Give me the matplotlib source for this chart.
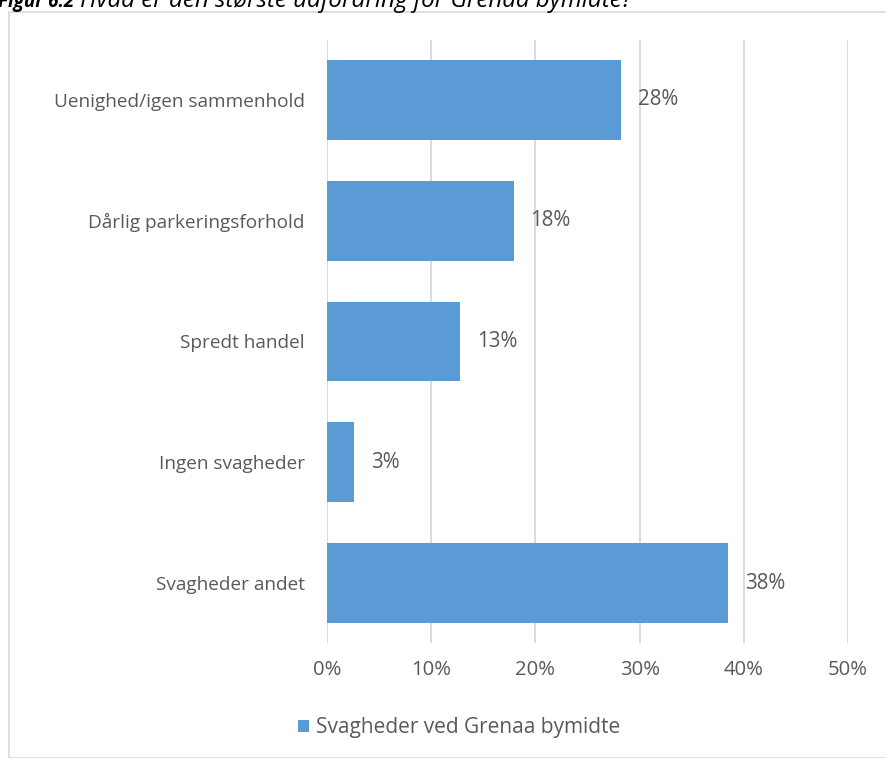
import matplotlib.pyplot as plt
from matplotlib.patches import Rectangle
from matplotlib.ticker import PercentFormatter

plt.rcParams['font.family'] = ['Open Sans', 'DejaVu Sans']

categories = ["Uenighed/igen sammenhold", "Dårlig parkeringsforhold", "Spredt handel",
              "Ingen svagheder", "Svagheder andet"]
values = [28.2, 17.9, 12.8, 2.6, 38.5]
labels = ["28%", "18%", "13%", "3%", "38%"]
series_name = "Svagheder ved Grenaa bymidte"

BAR_COLOR = '#5B9BD5'
GRID_COLOR = '#D9D9D9'
TEXT_COLOR = '#595959'

fig = plt.figure(figsize=(8.87, 7.58), dpi=100)
ax = fig.add_axes([327 / 887, 1 - 643.4 / 758, (848 - 327) / 887, (643.4 - 39.6) / 758])

ypos = list(range(len(categories)))
bars = ax.barh(ypos, values, height=0.66, color=BAR_COLOR, label=series_name, zorder=3)
for y, v, lab in zip(ypos, values, labels):
    ax.text(v + 1.6, y, lab, va='center', ha='left', fontsize=14.8, color=TEXT_COLOR)

ax.set_xlim(0, 50)
ax.set_ylim(len(categories) - 0.5, -0.5)
ax.set_xticks(range(0, 51, 10))
ax.xaxis.set_major_formatter(PercentFormatter(decimals=0))
ax.set_yticks(ypos)
ax.set_yticklabels(categories)
ax.tick_params(axis='both', length=0, labelcolor=TEXT_COLOR)
ax.tick_params(axis='x', pad=12, labelsize=14.6)
ax.tick_params(axis='y', pad=16, labelsize=13.7)
ax.grid(axis='x', color=GRID_COLOR, linewidth=1.3, zorder=0)
for s in ax.spines.values():
    s.set_visible(False)

fig.legend(handles=[bars], labels=[series_name], loc='center', bbox_to_anchor=(459 / 887, 1 - 728 / 758),
           frameon=False, fontsize=15, labelcolor=TEXT_COLOR, handlelength=0.55, handleheight=0.55,
           handletextpad=0.3)

# chart frame
fig.patches.append(Rectangle((9 / 887, 0), 1, 1 - 12 / 758, transform=fig.transFigure,
                             fill=False, edgecolor=GRID_COLOR, linewidth=1.2))

# caption, cut off at the top edge (as in the source)
fig.text(-0.002, 1 - 7 / 758, "Figur 6.2", fontsize=13.6, fontweight='bold', fontstyle='italic',
         va='baseline', ha='left', color='black')
fig.text(80 / 887, 1 - 7 / 758, "Hvad er den største udfordring for Grenaa bymidte?", fontsize=17.4,
         fontstyle='italic', va='baseline', ha='left', color='black')

fig.savefig('out.png', dpi=100)
